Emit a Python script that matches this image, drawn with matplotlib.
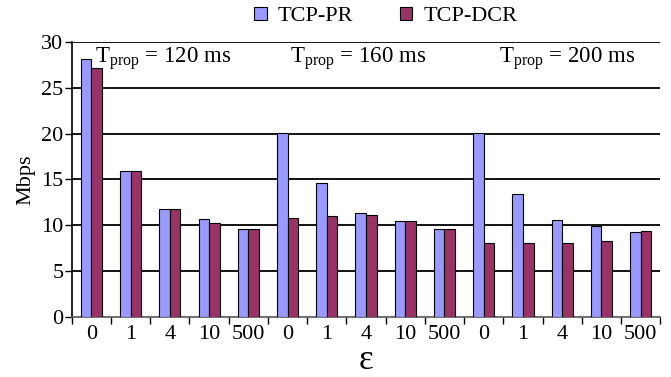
import numpy as np
import matplotlib
matplotlib.use('Agg')
import matplotlib.pyplot as plt

plt.rcParams['font.family'] = ['Liberation Serif', 'DejaVu Serif']
plt.rcParams['mathtext.fontset'] = 'custom'
plt.rcParams['mathtext.rm'] = 'Liberation Serif'

# data
epsLabels = ['0', '1', '4', '10', '500'] * 3
groupLabels = ['120', '160', '200']
tcpPR = [28.1, 15.9, 11.75, 10.65, 9.65,
         20.05, 14.6, 11.3, 10.45, 9.6,
         20.05, 13.4, 10.6, 9.9, 9.25]
tcpDCR = [27.2, 15.9, 11.75, 10.2, 9.65,
          10.85, 11.05, 11.1, 10.45, 9.6,
          8.05, 8.05, 8.05, 8.3, 9.4]

fig = plt.figure(figsize=(6.71, 3.77), dpi=100)
ax = fig.add_axes([0.107, 0.159, 0.877, 0.73])

n = len(tcpPR)
x = np.arange(n) + 0.5
w = 0.27
ax.bar(x - w / 2, tcpPR, w, color='#9999FF', edgecolor='black', linewidth=0.8,
       label='TCP-PR', zorder=3)
ax.bar(x + w / 2, tcpDCR, w, color='#993366', edgecolor='black', linewidth=0.8,
       label='TCP-DCR', zorder=3)

ax.set_xlim(0, n)
ax.set_ylim(0, 30)
ax.set_yticks(range(0, 31, 5))
for yv in range(5, 31, 5):
    ax.axhline(yv, color='black', linewidth=1.3, zorder=1)

ax.set_xticks(x)
ax.set_xticklabels(epsLabels)
ax.set_xticks(np.arange(n + 1), minor=True)
ax.tick_params(axis='x', which='major', length=0, labelsize=16, pad=6)
ax.tick_params(axis='x', which='minor', length=5, width=1)
ax.tick_params(axis='y', length=5, width=1, labelsize=16, pad=1)

for side in ['top', 'right']:
    ax.spines[side].set_visible(False)
ax.spines['left'].set_linewidth(1.2)
ax.spines['bottom'].set_linewidth(1.2)
ax.spines['bottom'].set_color('#555555')

ax.set_ylabel('Mbps', fontsize=16, labelpad=4)
ax.set_xlabel('ε', fontsize=25, labelpad=0)

textX = [0.6, 5.55, 10.9]
for tx, g in zip(textX, groupLabels):
    ax.text(tx, 29.55, r'T$_{\mathrm{prop}}$ = ' + g + ' ms', fontsize=16.5,
            ha='left', va='top', zorder=4)

fig.legend(loc='upper center', bbox_to_anchor=(0.575, 1.035), ncol=2, frameon=False,
           fontsize=16, handlelength=0.55, handleheight=0.55, columnspacing=2.1,
           handletextpad=0.5)

fig.savefig('out.png', dpi=100)
